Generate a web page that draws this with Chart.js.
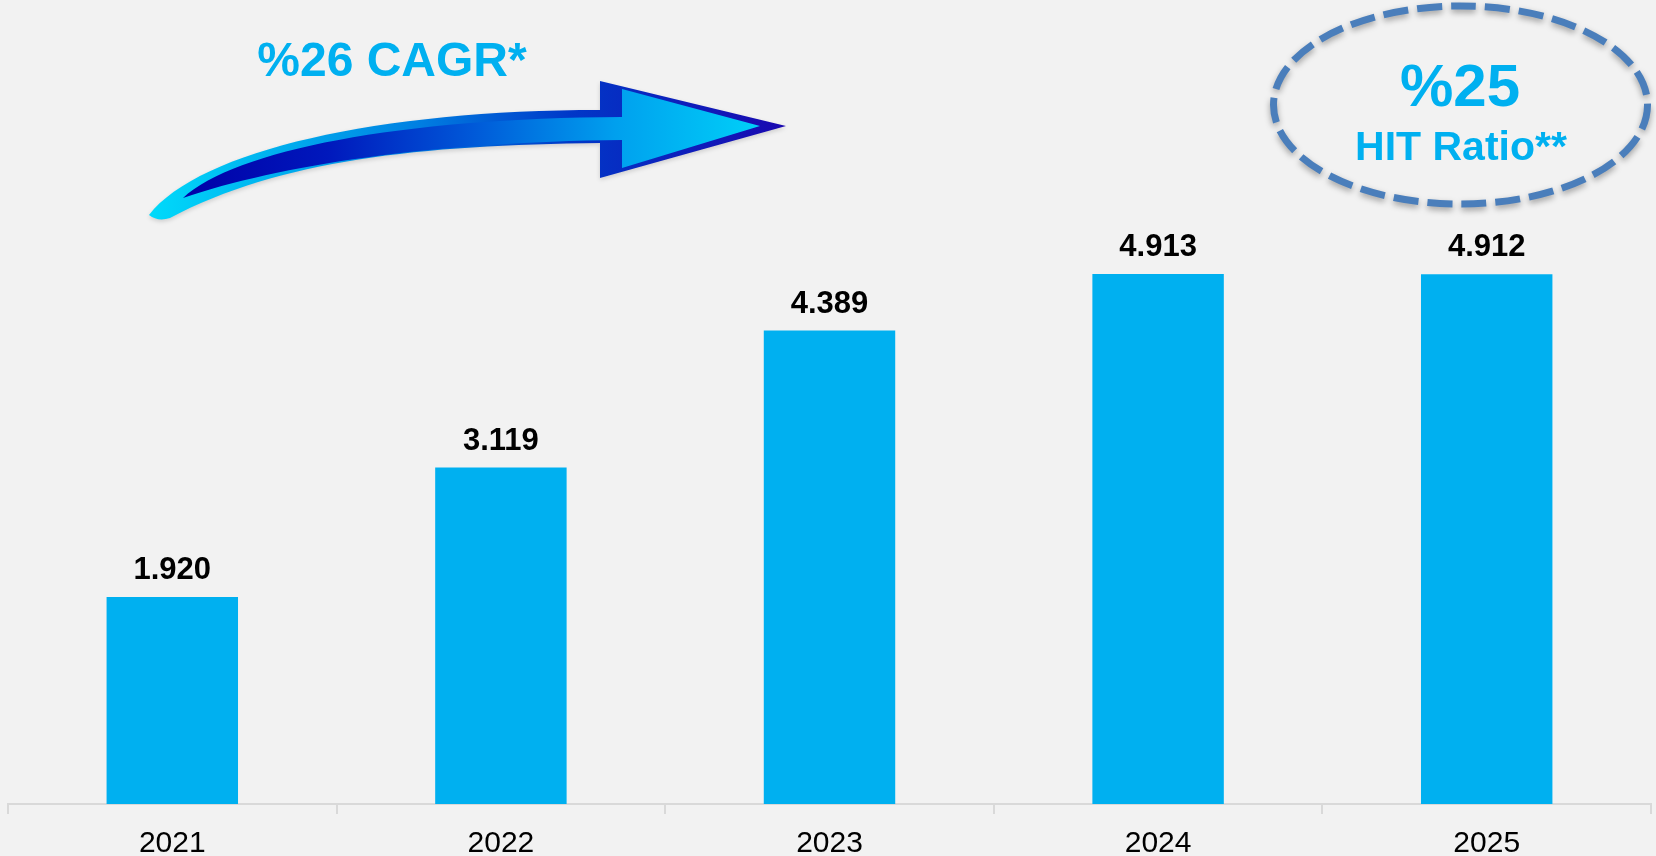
<!DOCTYPE html>
<html>
<head>
<meta charset="utf-8">
<title>HIT Ratio</title>
<script src="https://cdn.jsdelivr.net/npm/chart.js@4"></script>
<style>
  html, body { margin: 0; padding: 0; background: #f2f2f2; }
  #wrap { width: 1656px; height: 856px; position: relative; }
</style>
</head>
<body>
<div id="wrap"><canvas id="myChart"></canvas></div>
<script>
const years = ['2021', '2022', '2023', '2024', '2025'];
const values = [1920, 3119, 4389, 4913, 4912];
const yMax = 7000;

const barColor = '#00b0f0';
const fontFamily = '"Liberation Sans", Arial, sans-serif';

// 4913 -> "4.913"
const fmt = (n) => String(n).replace(/\B(?=(\d{3})+(?!\d))/g, '.');

const valueLabels = {
  id: 'valueLabels',
  afterDatasetsDraw(chart) {
    const ctx = chart.ctx;
    const meta = chart.getDatasetMeta(0);
    ctx.save();
    ctx.font = 'bold 31px ' + fontFamily;
    ctx.fillStyle = '#000';
    ctx.textAlign = 'center';
    ctx.textBaseline = 'alphabetic';
    meta.data.forEach((bar, i) => {
      ctx.fillText(fmt(values[i]), bar.x, bar.y - 18);
    });
    ctx.restore();
  }
};

// arrow, CAGR text and the dashed ellipse callout
const decorations = {
  id: 'decorations',
  afterDraw(chart) {
    const ctx = chart.ctx;
    ctx.save();

    // outer arrow shape
    ctx.shadowColor = 'rgba(0,0,0,0.15)';
    ctx.shadowBlur = 4;
    ctx.shadowOffsetY = 2;
    let g = ctx.createLinearGradient(150, 0, 785, 0);
    g.addColorStop(0, '#00dafa');
    g.addColorStop(0.18, '#00b4f0');
    g.addColorStop(0.42, '#0080e2');
    g.addColorStop(0.66, '#0038c8');
    g.addColorStop(1, '#1a08b0');
    ctx.fillStyle = g;
    ctx.beginPath();
    ctx.moveTo(149, 215);
    ctx.bezierCurveTo(200, 150, 380, 110, 600, 110);
    ctx.lineTo(600, 81);
    ctx.lineTo(786, 126);
    ctx.lineTo(600, 178);
    ctx.lineTo(600, 143);
    ctx.bezierCurveTo(420, 145, 280, 160, 170, 218);
    ctx.quadraticCurveTo(158, 222, 149, 215);
    ctx.closePath();
    ctx.fill();
    ctx.shadowColor = 'transparent';

    // inner band + head
    g = ctx.createLinearGradient(183, 0, 760, 0);
    g.addColorStop(0, '#0000a8');
    g.addColorStop(0.25, '#0018bc');
    g.addColorStop(0.5, '#0058d8');
    g.addColorStop(0.75, '#00a0ee');
    g.addColorStop(1, '#00d0f8');
    ctx.fillStyle = g;
    ctx.beginPath();
    ctx.moveTo(183, 198);
    ctx.bezierCurveTo(235, 150, 400, 118, 622, 117);
    ctx.lineTo(622, 89);
    ctx.lineTo(760, 126);
    ctx.lineTo(622, 168);
    ctx.lineTo(622, 140);
    ctx.bezierCurveTo(430, 142, 280, 165, 183, 198);
    ctx.closePath();
    ctx.fill();

    // CAGR label
    ctx.fillStyle = barColor;
    ctx.font = 'bold 48px ' + fontFamily;
    ctx.textAlign = 'center';
    ctx.textBaseline = 'alphabetic';
    ctx.fillText('%26 CAGR*', 392, 76);

    // dashed ellipse
    ctx.shadowColor = 'rgba(0,0,0,0.35)';
    ctx.shadowBlur = 6;
    ctx.shadowOffsetY = 3;
    ctx.strokeStyle = '#4a7ebb';
    ctx.lineWidth = 7;
    ctx.setLineDash([25, 9]);
    ctx.beginPath();
    ctx.ellipse(1460.5, 105, 187, 99, 0, 0, Math.PI * 2);
    ctx.stroke();
    ctx.setLineDash([]);
    ctx.shadowColor = 'transparent';

    ctx.fillStyle = barColor;
    ctx.font = 'bold 60px ' + fontFamily;
    ctx.fillText('%25', 1460, 106);
    ctx.font = 'bold 41px ' + fontFamily;
    ctx.fillText('HIT Ratio**', 1461, 160);

    ctx.restore();
  }
};

document.addEventListener('DOMContentLoaded', function () {
  const ctx = document.getElementById('myChart');

  new Chart(ctx, {
    type: 'bar',
    data: {
      labels: years,
      datasets: [
        {
          data: values,
          backgroundColor: barColor,
          borderWidth: 0,
          barPercentage: 0.4,
          categoryPercentage: 1,
        },
      ],
    },
    options: {
      responsive: true,
      maintainAspectRatio: false,
      animation: false,
      layout: {
        padding: { left: 8, right: 5, top: 49, bottom: -18 },
      },
      plugins: {
        legend: { display: false },
        tooltip: { enabled: false },
      },
      scales: {
        x: {
          grid: {
            offset: true,
            drawOnChartArea: false,
            drawTicks: true,
            tickLength: 10,
            color: '#d9d9d9',
            lineWidth: 2,
          },
          border: { display: true, color: '#d9d9d9', width: 2 },
          ticks: {
            color: '#000',
            padding: 12,
            font: { family: fontFamily, size: 30 },
          },
        },
        y: {
          display: false,
          beginAtZero: true,
          min: 0,
          max: yMax,
        },
      },
    },
    plugins: [valueLabels, decorations],
  });
});
</script>
</body>
</html>
